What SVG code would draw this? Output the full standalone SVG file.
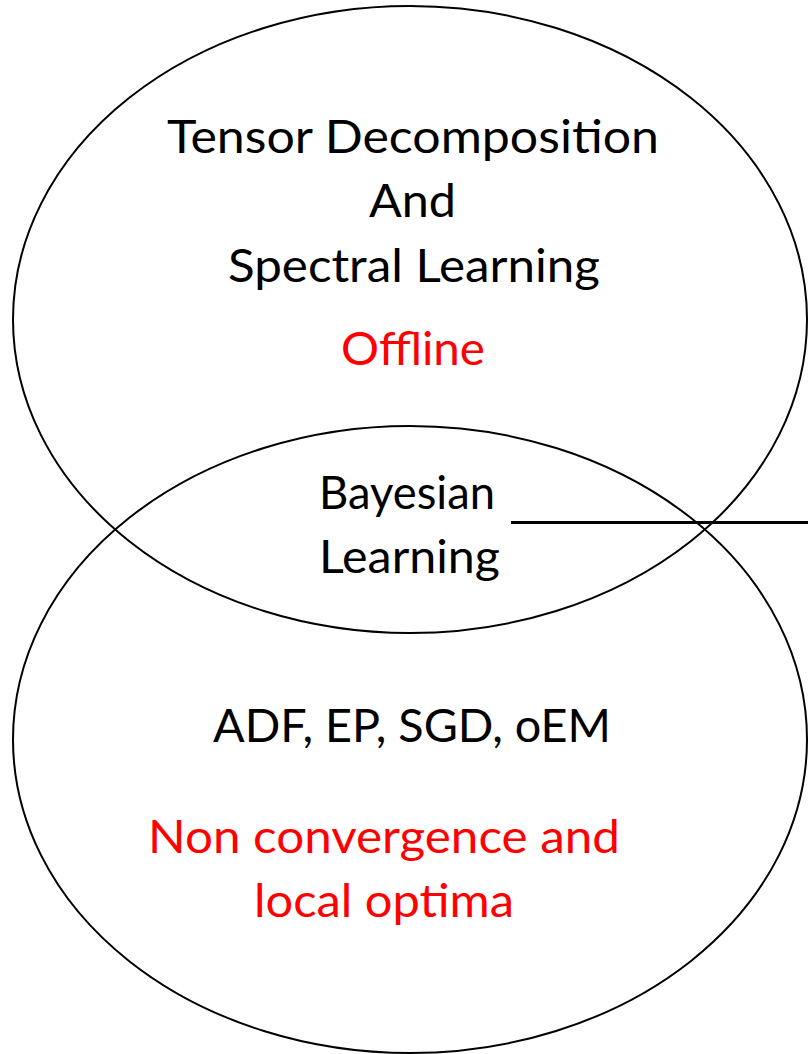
<svg xmlns="http://www.w3.org/2000/svg" width="808" height="1054" viewBox="0 0 808 1054">
  <style>
    .outline { fill: none; stroke: #000; stroke-width: 2; }
    .lbl { font-family: Lato, "Open Sans", "Liberation Sans", sans-serif; font-size: 46px; }
    .black { fill: #000; }
    .red { fill: #ff0000; }
    .conn { stroke: #000; stroke-width: 3; fill: none; }
  </style>
  <rect width="808" height="1054" fill="#fff"/>

  <!-- upper set -->
  <g id="tensor-spectral">
    <ellipse class="outline" cx="410" cy="319.5" rx="397" ry="313.5"/>
    <text class="lbl black" x="167" y="153" textLength="492" lengthAdjust="spacingAndGlyphs">Tensor Decomposition</text>
    <text class="lbl black" x="369" y="217" textLength="87" lengthAdjust="spacingAndGlyphs">And</text>
    <text class="lbl black" x="228" y="282" textLength="372" lengthAdjust="spacingAndGlyphs">Spectral Learning</text>
    <text class="lbl red" x="341" y="365" textLength="144" lengthAdjust="spacingAndGlyphs">Offline</text>
  </g>

  <!-- lower set -->
  <g id="online-methods">
    <ellipse class="outline" cx="410" cy="739.5" rx="397" ry="313.5"/>
    <text class="lbl black" x="213" y="742" textLength="398" lengthAdjust="spacingAndGlyphs">ADF, EP, SGD, oEM</text>
    <text class="lbl red" x="148" y="853" textLength="472" lengthAdjust="spacingAndGlyphs">Non convergence and</text>
    <text class="lbl red" x="254" y="917" textLength="260" lengthAdjust="spacingAndGlyphs">local optima</text>
  </g>

  <!-- overlap label -->
  <g id="bayesian">
    <text class="lbl black" x="319" y="509" textLength="176" lengthAdjust="spacingAndGlyphs">Bayesian</text>
    <text class="lbl black" x="319" y="573" textLength="181" lengthAdjust="spacingAndGlyphs">Learning</text>
  </g>

  <g id="connectors">
    <line class="conn" x1="511" y1="522.5" x2="808" y2="522.5"/>
  </g>
</svg>
